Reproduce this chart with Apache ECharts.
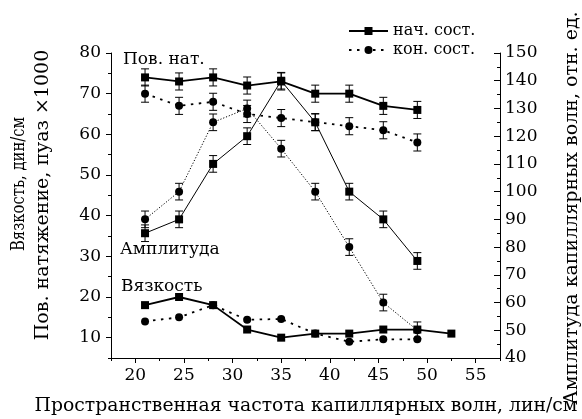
<!DOCTYPE html>
<html>
<head>
<meta charset="utf-8">
<script src="https://cdn.jsdelivr.net/npm/echarts@6/dist/echarts.min.js"></script>
<style>
  html, body { margin: 0; background: #fff; }
  #chart1 { width: 582px; height: 419px; }
</style>
</head>
<body>
<div id="chart1"></div>
<script>
// частота, лин/см
const freq = [21, 24.5, 28, 31.5, 35, 38.5, 42, 45.5, 49];
const freqVisc = [21, 24.5, 28, 31.5, 35, 38.5, 42, 45.5, 49, 52.5];

// поверхностное натяжение (левая ось)
const tensionStart = [74, 73, 74, 72, 73, 70, 70, 67, 66];
const tensionEnd = [70, 67, 68, 65, 64, 63, 62, 61, 58];
const tensionErr = [2.1, 2.1, 2.1, 2.1, 2.1, 2.1, 2.1, 2.1, 2.1];

// амплитуда (правая ось)
const ampStart = [85, 90, 110, 120, 140, 125, 100, 90, 75];
const ampEnd = [90, 100, 125, 130, 115.5, 100, 80, 60, 50];
const ampErr = [3, 3, 3, 3, 3, 3, 3, 3, 3];

// вязкость (левая ось)
const viscStart = [18, 20, 18, 12, 10, 11, 11, 12, 12, 11];
const viscEnd = [14, 15, 18, 14.4, 14.6, 11, 9, 9.6, 9.6];

// подписи осей
const xLabels = [20, 25, 30, 35, 40, 45, 50, 55];
const xMinor = [17.5, 22.5, 27.5, 32.5, 37.5, 42.5, 47.5, 52.5, 57.5];
const leftLabels = [10, 20, 30, 40, 50, 60, 70, 80];
const leftMinor = [5, 15, 25, 35, 45, 55, 65, 75];

const FONT = 'DejaVu Serif';
const black = '#000';

const pairs = (xs, ys) => xs.slice(0, ys.length).map((x, i) => [x, ys[i]]);

const lineSeries = (name, xs, ys, yAxisIndex, symbol, width, type) => ({
    name: name,
    type: 'line',
    yAxisIndex: yAxisIndex,
    data: pairs(xs, ys),
    symbol: symbol,
    symbolSize: 8,
    z: 3,
    lineStyle: { color: black, width: width, type: type },
    itemStyle: { color: black },
    emphasis: { disabled: true }
});

// планки погрешностей
const errorSeries = (xs, ys, errs, yAxisIndex) => ({
    type: 'custom',
    yAxisIndex: yAxisIndex,
    silent: true,
    z: 2,
    data: xs.map((x, i) => [x, ys[i] - errs[i], ys[i] + errs[i]]),
    encode: { x: 0, y: [1, 2] },
    renderItem: (params, api) => {
        const lo = api.coord([api.value(0), api.value(1)]);
        const hi = api.coord([api.value(0), api.value(2)]);
        const w = 4;
        const st = { stroke: black, lineWidth: 1 };
        return {
            type: 'group',
            children: [
                { type: 'line', shape: { x1: lo[0], y1: lo[1], x2: hi[0], y2: hi[1] }, style: st },
                { type: 'line', shape: { x1: lo[0] - w, y1: lo[1], x2: lo[0] + w, y2: lo[1] }, style: st },
                { type: 'line', shape: { x1: hi[0] - w, y1: hi[1], x2: hi[0] + w, y2: hi[1] }, style: st }
            ]
        };
    }
});

const txt = (text, x, y, size, align, rotation, scaleX) => ({
    type: 'text',
    x: x,
    y: y,
    rotation: rotation || 0,
    scaleX: scaleX || 1,
    style: {
        text: text,
        font: size + 'px "' + FONT + '"',
        fill: black,
        align: align, textAlign: align,
        verticalAlign: 'middle', textVerticalAlign: 'middle'
    }
});

const axisFont = { color: black, fontFamily: FONT, fontSize: 17 };

const option = {
    animation: false,
    grid: { left: 111, top: 53, width: 389, height: 305 },
    legend: {
        data: ['нач. сост.', 'кон. сост.'],
        orient: 'vertical',
        left: 343,
        top: 18,
        itemWidth: 39,
        itemHeight: 10,
        itemGap: 3,
        textStyle: { color: black, fontFamily: FONT, fontSize: 16 }
    },
    xAxis: [
        {
            type: 'value', min: 17.5, max: 57.5,
            axisLine: { lineStyle: { color: black, width: 1 } },
            axisTick: { customValues: xLabels, length: 5, lineStyle: { color: black } },
            axisLabel: Object.assign({ customValues: xLabels, margin: 9 }, axisFont),
            splitLine: { show: false }
        },
        {
            type: 'value', min: 17.5, max: 57.5, position: 'bottom',
            axisLine: { show: false },
            axisTick: { customValues: xMinor, length: 3, lineStyle: { color: black } },
            axisLabel: { show: false },
            splitLine: { show: false }
        }
    ],
    yAxis: [
        {
            type: 'value', position: 'left', min: 5, max: 80,
            axisLine: { show: true, lineStyle: { color: black, width: 1 } },
            axisTick: { show: true, customValues: leftLabels, length: 5, lineStyle: { color: black } },
            axisLabel: Object.assign({ customValues: leftLabels, margin: 10 }, axisFont),
            splitLine: { show: false }
        },
        {
            type: 'value', position: 'right', min: 40, max: 150, interval: 10,
            axisLine: { show: true, lineStyle: { color: black, width: 1 } },
            axisTick: { show: true, inside: true, length: 6, lineStyle: { color: black } },
            minorTick: { show: true, splitNumber: 2, length: 3, lineStyle: { color: black } },
            axisLabel: Object.assign({ margin: 5 }, axisFont),
            splitLine: { show: false }
        },
        {
            type: 'value', position: 'left', min: 5, max: 80,
            axisLine: { show: false },
            axisTick: { show: true, customValues: leftMinor, length: 3, lineStyle: { color: black } },
            axisLabel: { show: false },
            splitLine: { show: false }
        }
    ],
    graphic: [
        txt('Пов. нат.', 123, 60, 17, 'left'),
        txt('Амплитуда', 120, 250, 17, 'left'),
        txt('Вязкость', 121, 287, 17, 'left'),
        txt('Пространственная частота капиллярных волн, лин/см', 306, 406, 18.8, 'center'),
        txt('Вязкость, дин/см', 19, 184, 19, 'center', Math.PI / 2, 0.78),
        txt('Пов. натяжение, пуаз ×1000', 43, 195, 19, 'center', Math.PI / 2),
        txt('Амплитуда капиллярных волн, отн. ед.', 572, 208, 19, 'center', Math.PI / 2)
    ],
    series: [
        lineSeries('нач. сост.', freq, tensionStart, 0, 'rect', 1.8, 'solid'),
        lineSeries('кон. сост.', freq, tensionEnd, 0, 'circle', 1.8, [2.5, 5.5]),
        lineSeries('нач. сост.', freq, ampStart, 1, 'rect', 1, 'solid'),
        lineSeries('кон. сост.', freq, ampEnd, 1, 'circle', 1, [1.2, 1.8]),
        lineSeries('нач. сост.', freqVisc, viscStart, 0, 'rect', 1.8, 'solid'),
        lineSeries('кон. сост.', freq, viscEnd, 0, 'circle', 1.8, [2.5, 5.5]),
        errorSeries(freq, tensionStart, tensionErr, 0),
        errorSeries(freq, tensionEnd, tensionErr, 0),
        errorSeries(freq, ampStart, ampErr, 1),
        errorSeries(freq, ampEnd, ampErr, 1)
    ]
};

const chart1 = echarts.init(document.getElementById('chart1'));
chart1.setOption(option);
</script>
</body>
</html>
